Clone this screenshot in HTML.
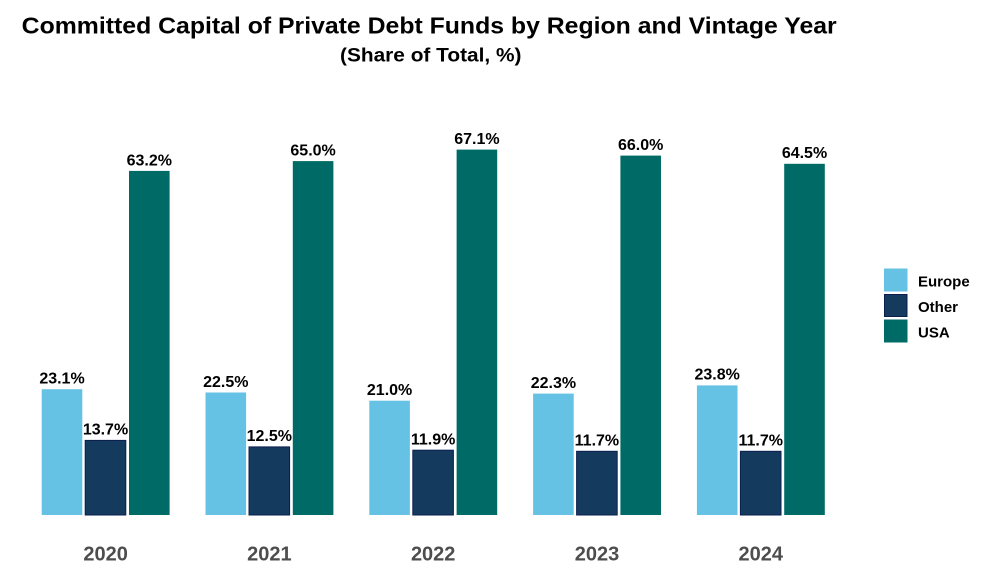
<!DOCTYPE html>
<html>
<head>
<meta charset="utf-8">
<style>
  html, body { margin: 0; padding: 0; background: #ffffff; }
  svg { display: block; }
  text { font-family: "Liberation Sans", Arial, sans-serif; font-weight: bold; }
</style>
</head>
<body>
<svg width="994" height="573" viewBox="0 0 994 573" xmlns="http://www.w3.org/2000/svg">
  <rect x="0" y="0" width="994" height="573" fill="#ffffff"/>

  <!-- Titles -->
  <text x="21.7" y="33.5" font-size="23" fill="#000" textLength="815" lengthAdjust="spacingAndGlyphs">Committed Capital of Private Debt Funds by Region and Vintage Year</text>
  <text x="340" y="61.5" font-size="19.5" fill="#000" textLength="181.5" lengthAdjust="spacingAndGlyphs">(Share of Total, %)</text>

  <!-- 2020 -->
  <rect x="41.7" y="389.2" width="40.6" height="125.8" fill="#66c2e4"/>
  <rect x="85.2" y="440.4" width="40.6" height="74.6" fill="#143a5e" stroke="#0b1f4f" stroke-width="1"/>
  <rect x="129" y="170.9" width="40.6" height="344.1" fill="#006b66"/>
  <text x="62" y="383.5" font-size="16" text-anchor="middle" fill="#000">23.1%</text>
  <text x="105.5" y="434.7" font-size="16" text-anchor="middle" fill="#000">13.7%</text>
  <text x="149.3" y="165.4" font-size="16" text-anchor="middle" fill="#000">63.2%</text>
  <text x="105.6" y="560.5" font-size="20" text-anchor="middle" fill="#4d4d4d">2020</text>

  <!-- 2021 -->
  <rect x="205.5" y="392.5" width="40.6" height="122.5" fill="#66c2e4"/>
  <rect x="249" y="446.9" width="40.6" height="68.1" fill="#143a5e" stroke="#0b1f4f" stroke-width="1"/>
  <rect x="292.8" y="161.1" width="40.6" height="353.9" fill="#006b66"/>
  <text x="225.8" y="386.8" font-size="16" text-anchor="middle" fill="#000">22.5%</text>
  <text x="269.3" y="441.2" font-size="16" text-anchor="middle" fill="#000">12.5%</text>
  <text x="313.1" y="155.6" font-size="16" text-anchor="middle" fill="#000">65.0%</text>
  <text x="269.4" y="560.5" font-size="20" text-anchor="middle" fill="#4d4d4d">2021</text>

  <!-- 2022 -->
  <rect x="369.3" y="400.7" width="40.6" height="114.3" fill="#66c2e4"/>
  <rect x="412.8" y="450.2" width="40.6" height="64.8" fill="#143a5e" stroke="#0b1f4f" stroke-width="1"/>
  <rect x="456.6" y="149.6" width="40.6" height="365.4" fill="#006b66"/>
  <text x="389.6" y="395" font-size="16" text-anchor="middle" fill="#000">21.0%</text>
  <text x="433.1" y="444.5" font-size="16" text-anchor="middle" fill="#000">11.9%</text>
  <text x="476.9" y="144" font-size="16" text-anchor="middle" fill="#000">67.1%</text>
  <text x="433.2" y="560.5" font-size="20" text-anchor="middle" fill="#4d4d4d">2022</text>

  <!-- 2023 -->
  <rect x="533.1" y="393.6" width="40.6" height="121.4" fill="#66c2e4"/>
  <rect x="576.6" y="451.3" width="40.6" height="63.7" fill="#143a5e" stroke="#0b1f4f" stroke-width="1"/>
  <rect x="620.4" y="155.6" width="40.6" height="359.4" fill="#006b66"/>
  <text x="553.4" y="387.9" font-size="16" text-anchor="middle" fill="#000">22.3%</text>
  <text x="596.9" y="445.6" font-size="16" text-anchor="middle" fill="#000">11.7%</text>
  <text x="640.7" y="150" font-size="16" text-anchor="middle" fill="#000">66.0%</text>
  <text x="597" y="560.5" font-size="20" text-anchor="middle" fill="#4d4d4d">2023</text>

  <!-- 2024 -->
  <rect x="696.9" y="385.4" width="40.6" height="129.6" fill="#66c2e4"/>
  <rect x="740.4" y="451.3" width="40.6" height="63.7" fill="#143a5e" stroke="#0b1f4f" stroke-width="1"/>
  <rect x="784.2" y="163.8" width="40.6" height="351.2" fill="#006b66"/>
  <text x="717.2" y="379.7" font-size="16" text-anchor="middle" fill="#000">23.8%</text>
  <text x="760.7" y="445.6" font-size="16" text-anchor="middle" fill="#000">11.7%</text>
  <text x="804.5" y="158.2" font-size="16" text-anchor="middle" fill="#000">64.5%</text>
  <text x="760.8" y="560.5" font-size="20" text-anchor="middle" fill="#4d4d4d">2024</text>

  <!-- Legend -->
  <rect x="884" y="268.5" width="23.5" height="23" fill="#66c2e4"/>
  <rect x="884.5" y="294.5" width="22.5" height="22" fill="#143a5e" stroke="#0b1f4f" stroke-width="1"/>
  <rect x="884" y="319.5" width="23.5" height="23" fill="#006b66"/>
  <text x="918" y="286.5" font-size="15" fill="#000">Europe</text>
  <text x="918" y="312" font-size="15" fill="#000">Other</text>
  <text x="918" y="337.5" font-size="15" fill="#000">USA</text>
</svg>
</body>
</html>
